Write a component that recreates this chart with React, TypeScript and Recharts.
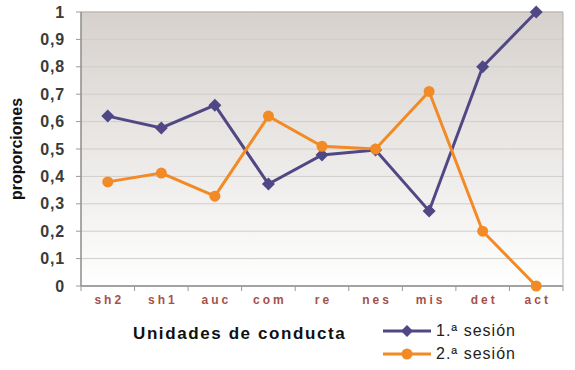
import React from "react";
import {
  LineChart,
  Line,
  XAxis,
  YAxis,
  CartesianGrid,
  ReferenceLine,
} from "recharts";

const categories = ["sh2", "sh1", "auc", "com", "re", "nes", "mis", "det", "act"];
const sesion1 = [0.62, 0.577, 0.66, 0.372, 0.478, 0.496, 0.274, 0.8, 1.0];
const sesion2 = [0.38, 0.412, 0.328, 0.62, 0.51, 0.5, 0.71, 0.2, 0.0];
const yTicks = [0, 0.1, 0.2, 0.3, 0.4, 0.5, 0.6, 0.7, 0.8, 0.9, 1];

const PURPLE = "#4f4884";
const ORANGE = "#f28a26";
const FONT = "Arial, 'Liberation Sans', sans-serif";

const data = categories.map((c, i) => ({ cat: c, s1: sesion1[i], s2: sesion2[i] }));

const Diamond = (props: any) => {
  const { cx, cy, fill } = props;
  if (cx == null || cy == null) return null;
  const r = 6.5;
  return (
    <path
      d={`M${cx},${cy - r} L${cx + r},${cy} L${cx},${cy + r} L${cx - r},${cy} Z`}
      fill={fill}
    />
  );
};

const Dot = (props: any) => {
  const { cx, cy, fill } = props;
  if (cx == null || cy == null) return null;
  return <circle cx={cx} cy={cy} r={5.5} fill={fill} />;
};

// category labels with a small tick at each band edge
const XTick = (props: any) => {
  const { x, y, payload, index } = props;
  const half = 482 / categories.length / 2;
  return (
    <g>
      <line x1={x - half} x2={x - half} y1={y - 8} y2={y - 3} stroke="#999" />
      {index === categories.length - 1 && (
        <line x1={x + half} x2={x + half} y1={y - 8} y2={y - 3} stroke="#999" />
      )}
      <text
        x={x + 1.5}
        y={y + 10}
        textAnchor="middle"
        fontFamily={FONT}
        fontSize={12}
        fontWeight="bold"
        letterSpacing={3}
        fill="#a5514a"
      >
        {payload.value}
      </text>
    </g>
  );
};

const LegendBox = () => (
  <div style={{ fontFamily: FONT, fontSize: 16, color: "#222", letterSpacing: 1 }}>
    {[
      { name: "1.ª sesión", color: PURPLE, diamond: true },
      { name: "2.ª sesión", color: ORANGE, diamond: false },
    ].map((it) => (
      <div key={it.name} style={{ display: "flex", alignItems: "center", height: 23 }}>
        <svg width={50} height={14}>
          <line x1={0} x2={48} y1={7} y2={7} stroke={it.color} strokeWidth={3} />
          {it.diamond ? (
            <path d="M24,1 L30,7 L24,13 L18,7 Z" fill={it.color} />
          ) : (
            <circle cx={24} cy={7} r={5.5} fill={it.color} />
          )}
        </svg>
        <span style={{ marginLeft: 3 }}>{it.name}</span>
      </div>
    ))}
  </div>
);

export default function App() {
  return (
    <div style={{ position: "relative", width: 575, height: 370, background: "#fff" }}>
      <style>{"body{margin:0}"}</style>
      <LineChart
        width={575}
        height={370}
        data={data}
        margin={{ top: 12, right: 0, left: 0, bottom: 0 }}
      >
        <defs>
          <linearGradient id="bg" x1="0" y1="0" x2="0" y2="1">
            <stop offset="0%" stopColor="#d6d1cd" />
            <stop offset="100%" stopColor="#ffffff" />
          </linearGradient>
        </defs>
        <CartesianGrid
          vertical={false}
          stroke="#d2cdc9"
          fill="url(#bg)"
          fillOpacity={1}
        />
        <XAxis
          dataKey="cat"
          scale="band"
          height={84}
          tick={<XTick />}
          tickLine={false}
          axisLine={{ stroke: "#8c8c8c", strokeWidth: 1.5 }}
          interval={0}
        />
        <YAxis
          domain={[0, 1]}
          ticks={yTicks}
          interval={0}
          width={81}
          tickFormatter={(v: number) => (v === 0 || v === 1 ? String(v) : v.toFixed(1).replace(".", ","))}
          tick={{ fontFamily: FONT, fontSize: 16, fontWeight: "bold", fill: "#3a3c3a", letterSpacing: 0.8 }}
          tickSize={5}
          tickMargin={11}
          tickLine={{ stroke: "#999" }}
          axisLine={{ stroke: "#8c8c8c", strokeWidth: 1.5 }}
          label={{
            value: "proporciones",
            angle: -90,
            position: "insideLeft",
            offset: 16,
            style: { fontFamily: FONT, fontSize: 16, fontWeight: "bold", fill: "#111", textAnchor: "middle" },
          }}
        />
        <YAxis
          yAxisId="right"
          orientation="right"
          width={12}
          tick={false}
          tickLine={false}
          axisLine={{ stroke: "#b4b0ac" }}
        />
        <ReferenceLine y={1} stroke="#b4b0ac" />
        <Line
          dataKey="s1"
          stroke={PURPLE}
          strokeWidth={3}
          dot={<Diamond />}
          activeDot={false}
          isAnimationActive={false}
          fill={PURPLE}
        />
        <Line
          dataKey="s2"
          stroke={ORANGE}
          strokeWidth={3}
          dot={<Dot />}
          activeDot={false}
          isAnimationActive={false}
          fill={ORANGE}
        />
      </LineChart>
      <div style={{ position: "absolute", left: 383, top: 319 }}>
        <LegendBox />
      </div>
      <div
        style={{
          position: "absolute",
          left: 133,
          top: 324,
          fontFamily: FONT,
          fontSize: 17,
          fontWeight: "bold",
          letterSpacing: 1.6,
          color: "#111",
        }}
      >
        Unidades de conducta
      </div>
    </div>
  );
}
